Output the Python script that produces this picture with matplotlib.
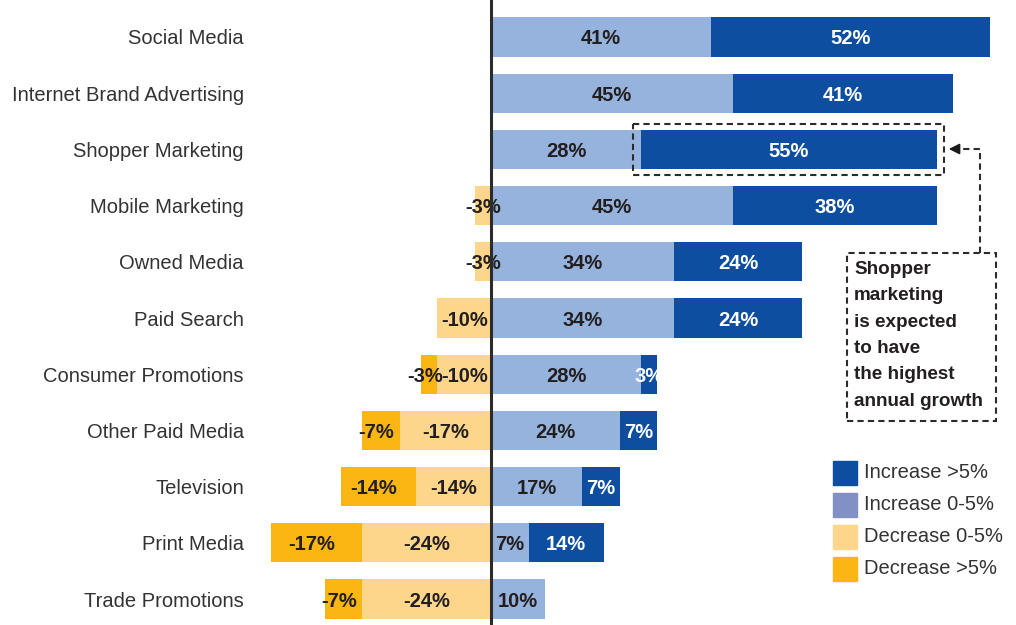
import numpy as np
import matplotlib.pyplot as plt
from matplotlib.patches import Rectangle

plt.rcParams['font.family'] = ['Liberation Sans', 'DejaVu Sans']

categories = ["Social Media", "Internet Brand Advertising", "Shopper Marketing",
              "Mobile Marketing", "Owned Media", "Paid Search", "Consumer Promotions",
              "Other Paid Media", "Television", "Print Media", "Trade Promotions"]
inc_small = [41, 45, 28, 45, 34, 34, 28, 24, 17, 7, 10]
inc_big = [52, 41, 55, 38, 24, 24, 3, 7, 7, 14, 0]
dec_small = [0, 0, 0, 3, 3, 10, 10, 17, 14, 24, 24]
dec_big = [0, 0, 0, 0, 0, 0, 3, 7, 14, 17, 7]
legend_labels = ["Increase >5%", "Increase 0-5%", "Decrease 0-5%", "Decrease >5%"]
note = "Shopper\nmarketing\nis expected\nto have\nthe highest\nannual growth"

c_big = "#0D4EA1"
c_small = "#95B3DC"
c_dsmall = "#FDD68C"
c_dbig = "#FBB614"
c_legend_small = "#8390C6"
dark = "#231F20"

W, H = 1016, 625
fig = plt.figure(figsize=(W / 100, H / 100), dpi=100)
ax = fig.add_axes([255 / W, 0, (W - 255) / W, 1])

# pixel scale: zero at x=491, 5.37 px per percent
ppp = 5.37
ax.set_xlim((255 - 491) / ppp, (W - 491) / ppp)
ax.set_ylim(10 + 26 / 56.2, -37 / 56.2)

y = np.arange(len(categories))
inc_small = np.array(inc_small)
inc_big = np.array(inc_big)
dec_small = np.array(dec_small)
dec_big = np.array(dec_big)
h = 0.7

ax.barh(y, inc_small, height=h, color=c_small, left=0)
ax.barh(y, inc_big, height=h, color=c_big, left=inc_small)
ax.barh(y, -dec_small, height=h, color=c_dsmall, left=0)
ax.barh(y, -dec_big, height=h, color=c_dbig, left=-dec_small)

fs = 14.5
for i in range(len(categories)):
    if inc_small[i]:
        ax.text(inc_small[i] / 2, i, f"{inc_small[i]}%", ha="center", va="center_baseline",
                fontsize=fs, fontweight="bold", color=dark)
    if inc_big[i]:
        ax.text(inc_small[i] + inc_big[i] / 2, i, f"{inc_big[i]}%", ha="center",
                va="center_baseline", fontsize=fs, fontweight="bold", color="white")
    if dec_small[i]:
        ax.text(-dec_small[i] / 2, i, f"-{dec_small[i]}%", ha="center", va="center_baseline",
                fontsize=fs, fontweight="bold", color=dark)
    if dec_big[i]:
        ax.text(-dec_small[i] - dec_big[i] / 2 - 0.8, i, f"-{dec_big[i]}%", ha="center",
                va="center_baseline", fontsize=fs, fontweight="bold", color=dark)

ax.axvline(0, color="#2b2b2b", lw=2.2, zorder=5)

ax.set_yticks(y)
ax.set_yticklabels(categories, fontsize=14.5, color="#333333")
ax.tick_params(axis="y", length=0, pad=8)
ax.set_xticks([])
for s in ax.spines.values():
    s.set_visible(False)

# dashed box around shopper marketing bar
ax.add_patch(Rectangle((26.4, 2 - 0.45), 58.0, 0.9, fill=False, ls=(0, (3, 2)),
                       lw=1.5, ec="#2b2b2b", zorder=6, clip_on=False))


def fx(px):
    return px / W


def fy(py):
    return 1 - py / H


# note box and arrow
fig.patches.append(Rectangle((fx(847), fy(421)), (996 - 847) / W, (421 - 253) / H,
                             fill=False, ls=(0, (3, 2)), lw=1.5, ec="#2b2b2b",
                             transform=fig.transFigure, figure=fig))
fig.lines.append(plt.Line2D([fx(980), fx(980), fx(960)], [fy(253), fy(149), fy(149)],
                            ls=(0, (3, 2)), lw=1.5, color="#2b2b2b",
                            transform=fig.transFigure, figure=fig))
ax.annotate("", xy=(fx(946), fy(149)), xycoords="figure fraction",
            xytext=(fx(962), fy(149)), textcoords="figure fraction",
            arrowprops=dict(arrowstyle="-|>", color="#1a1a1a", lw=1.2, mutation_scale=16))
fig.text(fx(854), fy(261), note, ha="left", va="top", fontsize=13.6,
         fontweight="bold", color=dark, linespacing=1.72)

# legend
legend_colors = [c_big, c_legend_small, c_dsmall, c_dbig]
for k, (lab, col) in enumerate(zip(legend_labels, legend_colors)):
    top = 461 + 32 * k
    fig.patches.append(Rectangle((fx(833), fy(top + 24)), 24 / W, 24 / H, color=col,
                                 transform=fig.transFigure, figure=fig))
    fig.text(fx(864), fy(top + 12), lab, ha="left", va="center", fontsize=14.5,
             color="#333333")

fig.savefig("out.png", dpi=100)
